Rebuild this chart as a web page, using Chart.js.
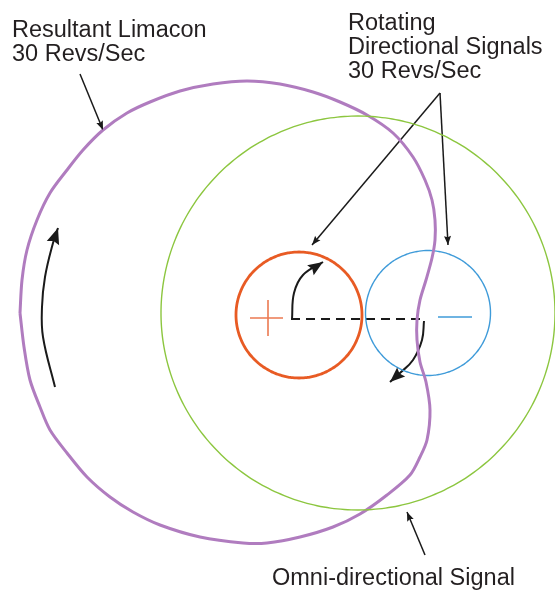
<!DOCTYPE html>
<html>
<head>
<meta charset="utf-8">
<script src="https://cdn.jsdelivr.net/npm/chart.js@4.4.1/dist/chart.umd.min.js"></script>
<style>
html,body{margin:0;padding:0;background:#fff;}
#wrap{position:relative;width:555px;height:590px;}
canvas{display:block;}
</style>
</head>
<body>
<div id="wrap"><canvas id="c" width="555" height="590"></canvas></div>
<script>
// ---- Data (diagram units, origin at the centre of the omni-directional signal, y up) ----
// Resultant limacon outline
const limaconX = [-338,-336,-331,-321,-308,-291,-275,-255,-231,-208,-178,-145,-111,-78,-45,-18,9,35,55,67,74,77,77,74,68,62,59,59,62,68,72,69,62,52,29,2,-25,-58,-91,-115,-158,-198,-225,-248,-271,-291,-308,-318,-328,-334,-338];
const limaconY = [0,33,63,93,120,143,163,183,200,211,222,229,232,229,221,211,198,180,156,133,113,93,73,55,33,13,-7,-27,-49,-69,-97,-127,-144,-162,-182,-201,-214,-224,-230,-230,-224,-212,-199,-184,-164,-140,-117,-94,-67,-34,0];

// Circles: [centreX, centreY, radius]
const omniCircle = [0, 0, 197];
const plusCircle = [-59, -2, 63];
const minusCircle = [70, 0, 62.5];

// Signs
const plusSignX = [-108, -75, null, -90, -90];
const plusSignY = [-5, -5, null, 13, -23];
const minusSignX = [80, 114];
const minusSignY = [-4, -4];

// Dashed axis between the two directional signals
const axisX = [-67, 65];
const axisY = [-6, -6];

// Rotation arrows
const arcPlusX = [-66, -64, -55, -35];
const arcPlusY = [-6, 20, 38, 51];
const arcMinusX = [66, 64, 55, 42, 32];
const arcMinusY = [-8, -27, -47, -60, -69];
const arcLeftX = [-303, -315, -316, -313, -305, -300];
const arcLeftY = [-74, -24, 6, 36, 70, 85];

// Callout pointers
const ptrLimaconX = [-278, -255];
const ptrLimaconY = [239, 183];
const ptrRotAX = [82, -46];
const ptrRotAY = [220, 68];
const ptrRotBX = [82, 90];
const ptrRotBY = [220, 68];
const ptrOmniX = [67, 49];
const ptrOmniY = [-242, -199];

// Labels
const labelLimacon = ["Resultant Limacon", "30 Revs/Sec"];
const labelRotating = ["Rotating", "Directional Signals", "30 Revs/Sec"];
const labelOmni = ["Omni-directional Signal"];

// ---- Helpers ----
function zip(xs, ys){ return xs.map((x,i)=> (x===null ? {x:NaN,y:NaN} : {x:x, y:ys[i]})); }
function circle(c){
  const pts=[]; const n=180;
  for(let i=0;i<=n;i++){ const a=2*Math.PI*i/n; pts.push({x:c[0]+c[2]*Math.cos(a), y:c[1]+c[2]*Math.sin(a)}); }
  return pts;
}
const base = {showLine:true, pointRadius:0, pointHoverRadius:0, fill:false, clip:false, tension:0};

const arrowPlugin = {
  id:'arrowheads',
  afterDatasetsDraw(chart){
    const ctx = chart.ctx;
    chart.data.datasets.forEach((ds,i)=>{
      if(!ds.arrow) return;
      const pts = chart.getDatasetMeta(i).data;
      const p1 = pts[pts.length-1], p0 = pts[pts.length-2];
      const ang = Math.atan2(p1.y-p0.y, p1.x-p0.x);
      const L = ds.arrow.len, W = ds.arrow.width/2;
      ctx.save();
      ctx.fillStyle = ds.borderColor;
      ctx.translate(p1.x, p1.y); ctx.rotate(ang);
      ctx.beginPath(); ctx.moveTo(0,0); ctx.lineTo(-L, -W); ctx.lineTo(-L*0.85, 0); ctx.lineTo(-L, W); ctx.closePath(); ctx.fill();
      ctx.restore();
    });
  }
};

const textPlugin = {
  id:'labels',
  afterDraw(chart, args, opts){
    const ctx = chart.ctx;
    ctx.save();
    ctx.fillStyle = '#231f20';
    ctx.font = '23.5px "Liberation Sans", Arial, sans-serif';
    ctx.textBaseline = 'alphabetic';
    ctx.textAlign = 'left';
    opts.blocks.forEach(b=>{
      b.lines.forEach((t,k)=> ctx.fillText(t, b.x, b.y + k*b.lh));
    });
    ctx.restore();
  }
};

const ink = '#1a1a1a';
new Chart(document.getElementById('c'), {
  type:'scatter',
  data:{ datasets:[
    Object.assign({}, base, {label:'Omni-directional Signal', data:circle(omniCircle), borderColor:'#8cc63f', borderWidth:1.4, tension:0.2}),
    Object.assign({}, base, {label:'Resultant Limacon', data:zip(limaconX, limaconY), borderColor:'#b07cbf', borderWidth:3, tension:0.3}),
    Object.assign({}, base, {label:'+', data:circle(plusCircle), borderColor:'#e85b24', borderWidth:2.8, tension:0.2}),
    Object.assign({}, base, {label:'-', data:circle(minusCircle), borderColor:'#3f9bd9', borderWidth:1.4, tension:0.2}),
    Object.assign({}, base, {label:'plus sign', data:zip(plusSignX, plusSignY), borderColor:'#ec7a52', borderWidth:1.6, spanGaps:false}),
    Object.assign({}, base, {label:'minus sign', data:zip(minusSignX, minusSignY), borderColor:'#3f9bd9', borderWidth:1.5}),
    Object.assign({}, base, {label:'axis', data:zip(axisX, axisY), borderColor:ink, borderWidth:2.2, borderDash:[9,6]}),
    Object.assign({}, base, {label:'arc+', data:zip(arcPlusX, arcPlusY), borderColor:ink, borderWidth:2, tension:0.4, arrow:{len:15,width:12}}),
    Object.assign({}, base, {label:'arc-', data:zip(arcMinusX, arcMinusY), borderColor:ink, borderWidth:2, tension:0.4, arrow:{len:15,width:12}}),
    Object.assign({}, base, {label:'arcL', data:zip(arcLeftX, arcLeftY), borderColor:ink, borderWidth:2, tension:0.4, arrow:{len:16,width:13}}),
    Object.assign({}, base, {label:'ptrL', data:zip(ptrLimaconX, ptrLimaconY), borderColor:ink, borderWidth:1.5, arrow:{len:9,width:7}}),
    Object.assign({}, base, {label:'ptrA', data:zip(ptrRotAX, ptrRotAY), borderColor:ink, borderWidth:1.5, arrow:{len:9,width:7}}),
    Object.assign({}, base, {label:'ptrB', data:zip(ptrRotBX, ptrRotBY), borderColor:ink, borderWidth:1.5, arrow:{len:9,width:7}}),
    Object.assign({}, base, {label:'ptrO', data:zip(ptrOmniX, ptrOmniY), borderColor:ink, borderWidth:1.5, arrow:{len:9,width:7}})
  ]},
  options:{
    responsive:false, maintainAspectRatio:false, animation:false,
    layout:{padding:0},
    events:[],
    plugins:{
      legend:{display:false}, tooltip:{enabled:false}, title:{display:false},
      labels:{ blocks:[
        {lines:labelLimacon, x:12, y:37, lh:24},
        {lines:labelRotating, x:348, y:30, lh:24},
        {lines:labelOmni, x:272, y:585, lh:24}
      ]}
    },
    scales:{
      x:{type:'linear', min:-358, max:197, display:false},
      y:{type:'linear', min:-277, max:313, display:false}
    }
  },
  plugins:[arrowPlugin, textPlugin]
});
</script>
</body>
</html>
